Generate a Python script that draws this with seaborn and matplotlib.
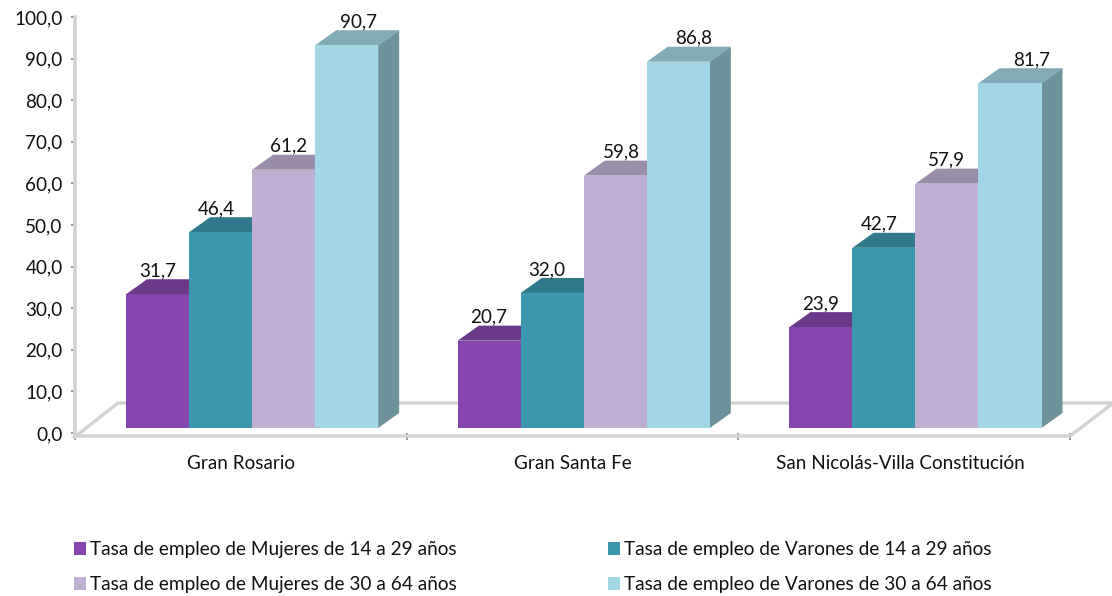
import matplotlib
matplotlib.use("Agg")
import matplotlib.pyplot as plt
import pandas as pd
import seaborn as sns
from matplotlib.colors import to_rgb
from matplotlib.patches import Polygon
from matplotlib.transforms import Affine2D

zonas = ["Gran Rosario", "Gran Santa Fe", "San Nicolás-Villa Constitución"]
series = [
    "Tasa de empleo de Mujeres de 14 a 29 años",
    "Tasa de empleo de Varones de 14 a 29 años",
    "Tasa de empleo de Mujeres de 30 a 64 años",
    "Tasa de empleo de Varones de 30 a 64 años",
]
mujeres_14_29 = [31.7, 20.7, 23.9]
varones_14_29 = [46.4, 32.0, 42.7]
mujeres_30_64 = [61.2, 59.8, 57.9]
varones_30_64 = [90.7, 86.8, 81.7]
colores = ["#8547AD", "#3C97AE", "#BFB0D3", "#A2D6E5"]
y_ticks = [0, 10, 20, 30, 40, 50, 60, 70, 80, 90, 100]

# nudge of each value label from the bar centre, in pixels
label_dx = [[0, -4, 5, 12], [-1, -6, 6, 15], [0, -5, -1, 22]]

W, H = 1112, 596
GRIS = "#D2D2D2"
DEPTH_X, DEPTH_Y = 21, 15
PX_PER_UNIT = 4.22
FS = 13.6

sns.set_style("white")
plt.rcParams["font.family"] = ["Lato", "DejaVu Sans"]
plt.rcParams["font.size"] = FS

df = pd.DataFrame({
    "zona": zonas * 4,
    "serie": [s for s in series for _ in zonas],
    "tasa": mujeres_14_29 + varones_14_29 + mujeres_30_64 + varones_30_64,
})

fig = plt.figure(figsize=(W / 100, H / 100), dpi=100)
px = Affine2D().scale(1 / W, -1 / H).translate(0, 1) + fig.transFigure

# axis frame, 0-100 between y=433 and y=17
ax = fig.add_axes([75 / W, 1 - 433 / H, 995 / W, 416 / H])
ax.set_xlim(-0.5, 2.5)
ax.set_ylim(0, 100)
ax.set_yticks(y_ticks)
ax.set_yticklabels([f"{v:.1f}".replace(".", ",") for v in y_ticks], color="#111111")
ax.tick_params(axis="y", length=3, width=1.2, color="#8A8A8A", pad=6, left=True)
ax.set_xticks([-0.5, 0.5, 1.5, 2.5])
ax.set_xticklabels([])
ax.tick_params(axis="x", length=5, width=1.2, color="#8A8A8A", bottom=True)
ax.set_xticks([0, 1, 1.99], minor=True)
ax.set_xticklabels(zonas, minor=True, color="#111111")
ax.tick_params(axis="x", which="minor", length=0, pad=16)
for lado in ["top", "right", "bottom"]:
    ax.spines[lado].set_visible(False)
ax.spines["left"].set_color(GRIS)
ax.spines["left"].set_linewidth(2.6)
ax.spines["left"].set_bounds(-1, 100)

# floor
ax.plot([1112, 118, 76, 1070, 1112], [403, 403, 436, 436, 404], transform=px, color=GRIS,
        lw=2.4, clip_on=False, solid_joinstyle="miter", zorder=1)

# bars, on their own axes: baseline at y=428 and shifted back by half the depth
bars = fig.add_axes([86.3 / W, 1 - 433 / H, 995 / W, 416 / H])
bars.patch.set_alpha(0)
sns.barplot(data=df, x="zona", y="tasa", hue="serie", hue_order=series, order=zonas,
            palette=colores, saturation=1, width=0.76, gap=0, legend=False, ax=bars,
            linewidth=0)
bars.set_xlim(-0.5, 2.5)
bars.set_ylim(-5 / PX_PER_UNIT, 411 / PX_PER_UNIT)
bars.axis("off")

dx = DEPTH_X * 3 / 995
dy = DEPTH_Y / PX_PER_UNIT
for s, cont in enumerate(bars.containers):
    base = to_rgb(colores[s])
    tapa = tuple(c * 0.8 for c in base)
    lado = tuple(c * 0.68 for c in base)
    for g, bar in enumerate(cont):
        x0, x1, h = bar.get_x(), bar.get_x() + bar.get_width(), bar.get_height()
        z = 2 + s
        bar.set_zorder(z + 0.2)
        bars.add_patch(Polygon([(x0, h), (x1, h), (x1 + dx, h + dy), (x0 + dx, h + dy)],
                               closed=True, fc=tapa, ec="none", zorder=z, clip_on=False))
        bars.add_patch(Polygon([(x1, 0), (x1 + dx, dy), (x1 + dx, h + dy), (x1, h)],
                               closed=True, fc=lado, ec="none", zorder=z, clip_on=False))
        etiqueta = f"{h:.1f}".replace(".", ",")
        bars.annotate(etiqueta, (x0 + bar.get_width() / 2, h + dy), xytext=(label_dx[g][s] * 0.72, 0),
                      textcoords="offset points", ha="center", va="bottom", color="#111111",
                      zorder=10, annotation_clip=False)

orden = [0, 2, 1, 3]
fig.legend([bars.containers[i] for i in orden], [series[i] for i in orden],
           ncol=2, loc="upper left", bbox_to_anchor=(57 / W, 1 - 524 / H), frameon=False,
           handlelength=0.63, handleheight=0.63, handletextpad=0.21,
           columnspacing=7.95, labelspacing=0.95, labelcolor="#111111", fontsize=13.72)

fig.savefig("out.png", dpi=100)
